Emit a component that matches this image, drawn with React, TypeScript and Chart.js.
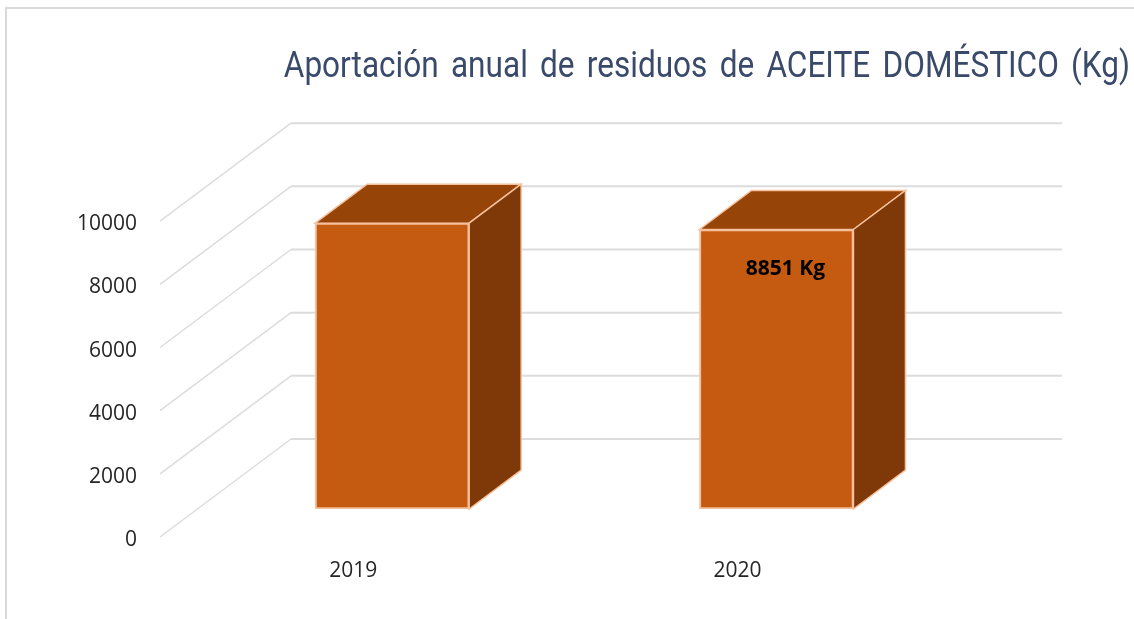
import { useEffect, useRef } from "react";
import { Chart, registerables } from "chart.js";

Chart.register(...registerables);

const years = [2019, 2020];
const values = [9050, 8851];
const dataLabels = ["", "8851 Kg"];
const titleText = "Aportación anual de residuos de ACEITE DOMÉSTICO (Kg)";

const DX = 52;
const DY = 39;
const TITLE_RIGHT = 1130;
const TITLE_SQUEEZE = 0.877;

const chromePlugin = {
  id: "chrome3d",
  afterLayout(chart: any) {
    const block = chart.titleBlock;
    if (!block || block.__wrapped) return;
    const orig = block.draw;
    block.__wrapped = true;
    block.draw = function () {
      const ctx = chart.ctx;
      ctx.save();
      ctx.translate(TITLE_RIGHT, 0);
      ctx.scale(TITLE_SQUEEZE, 1);
      ctx.translate(-TITLE_RIGHT, 0);
      ctx.wordSpacing = "5px";
      orig.call(this);
      ctx.restore();
    };
  },
  beforeDraw(chart: any) {
    const { ctx, width, height } = chart;
    ctx.save();
    ctx.strokeStyle = "#d9d9d9";
    ctx.lineWidth = 2;
    ctx.beginPath();
    ctx.moveTo(6, height);
    ctx.lineTo(6, 8);
    ctx.lineTo(width, 8);
    ctx.stroke();
    ctx.restore();
  },
  beforeDatasetsDraw(chart: any) {
    const { ctx } = chart;
    const yScale = chart.scales.y;
    ctx.save();
    ctx.strokeStyle = "#dcdcdc";
    yScale.ticks.forEach((t: any) => {
      const y = yScale.getPixelForValue(t.value);
      ctx.lineWidth = 1.5;
      ctx.beginPath();
      ctx.moveTo(160, y + 28);
      ctx.lineTo(291, y - 70);
      ctx.stroke();
      ctx.lineWidth = 2;
      ctx.beginPath();
      ctx.moveTo(291, y - 70);
      ctx.lineTo(1062, y - 70);
      ctx.stroke();
    });
    chart.getDatasetMeta(0).data.forEach((bar: any) => {
      const p = bar.getProps(["x", "y", "base", "width"], true);
      const l = p.x - p.width / 2;
      const r = p.x + p.width / 2;
      ctx.lineWidth = 1.5;
      ctx.strokeStyle = "#f6c09c";
      ctx.fillStyle = "#974409";
      ctx.beginPath();
      ctx.moveTo(l, p.y);
      ctx.lineTo(l + DX, p.y - DY);
      ctx.lineTo(r + DX, p.y - DY);
      ctx.lineTo(r, p.y);
      ctx.closePath();
      ctx.fill();
      ctx.stroke();
      ctx.fillStyle = "#7f3908";
      ctx.beginPath();
      ctx.moveTo(r, p.y);
      ctx.lineTo(r + DX, p.y - DY);
      ctx.lineTo(r + DX, p.base - DY);
      ctx.lineTo(r, p.base);
      ctx.closePath();
      ctx.fill();
      ctx.stroke();
    });
    ctx.restore();
  },
  afterDatasetsDraw(chart: any) {
    const { ctx } = chart;
    ctx.save();
    ctx.font = "bold 21px 'Open Sans', sans-serif";
    ctx.fillStyle = "#000000";
    ctx.textAlign = "center";
    ctx.textBaseline = "middle";
    chart.getDatasetMeta(0).data.forEach((bar: any, i: number) => {
      if (dataLabels[i]) ctx.fillText(dataLabels[i], bar.x + 9, bar.y + 40);
    });
    ctx.restore();
  },
};

export default function App() {
  const ref = useRef<HTMLCanvasElement>(null);
  useEffect(() => {
    const chart = new Chart(ref.current as HTMLCanvasElement, {
      type: "bar",
      data: {
        datasets: [
          {
            data: years.map((x, i) => ({ x, y: values[i] })),
            backgroundColor: "#c55a11",
            borderColor: "#f6c09c",
            borderWidth: 2,
            borderSkipped: false,
            barThickness: 154,
          },
        ],
      },
      options: {
        responsive: false,
        animation: false,
        layout: { padding: { left: 0, right: 4, top: 0, bottom: 39 } },
        plugins: {
          legend: { display: false },
          tooltip: { enabled: false },
          title: {
            display: true,
            text: titleText,
            align: "end",
            color: "#3a4a6b",
            font: { family: "Roboto, sans-serif", size: 36, weight: "normal" },
            padding: { top: 46, bottom: 104 },
          },
        },
        scales: {
          x: {
            type: "linear",
            offset: false,
            min: 2018.5,
            max: 2020.92,
            grid: { display: false, drawTicks: false },
            border: { display: false },
            afterBuildTicks: (s: any) => {
              s.ticks = years.map((value) => ({ value }));
            },
            afterFit: (s: any) => {
              s.height = 71;
            },
            ticks: {
              padding: 49,
              labelOffset: -39,
              maxRotation: 0,
              autoSkip: false,
              color: "#262626",
              font: { family: "'Open Sans', sans-serif", size: 21 },
              callback: (v: any) => String(v),
            },
          },
          y: {
            min: 0,
            max: 10000,
            grid: { display: false, drawTicks: false },
            border: { display: false },
            afterFit: (s: any) => {
              s.width = 200;
            },
            ticks: {
              stepSize: 2000,
              padding: 63,
              labelOffset: 31,
              color: "#262626",
              font: { family: "'Open Sans', sans-serif", size: 21 },
              callback: (v: any) => String(v),
            },
          },
        },
      },
      plugins: [chromePlugin],
    } as any);
    return () => chart.destroy();
  }, []);
  return (
    <canvas
      ref={ref}
      width={1134}
      height={619}
      style={{ position: "absolute", left: 0, top: 0, width: 1134, height: 619 }}
    />
  );
}
